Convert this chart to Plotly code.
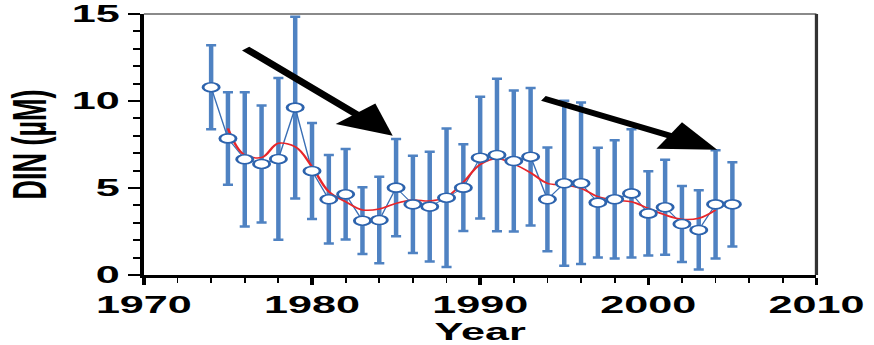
import plotly.graph_objects as go

# ---- data ----
years = list(range(1974, 2006))
din_mean = [10.79, 7.85, 6.65, 6.38, 6.67, 9.62, 5.98, 4.35, 4.64, 3.12,
            3.16, 5.02, 4.06, 3.93, 4.44, 5.02, 6.74, 6.90, 6.55, 6.80,
            4.35, 5.27, 5.27, 4.16, 4.35, 4.69, 3.54, 3.89, 2.93, 2.59,
            4.06, 4.06]
din_sd = [2.42, 2.66, 3.86, 3.36, 4.65, 5.22, 2.76, 2.54, 2.60, 1.92,
          2.49, 2.80, 2.80, 3.16, 3.98, 2.49, 3.50, 4.38, 4.05, 3.95,
          2.98, 4.74, 4.64, 3.16, 3.40, 3.69, 2.42, 2.73, 2.18, 2.28,
          3.11, 2.42]
smooth_years = list(range(1975, 2005))
din_smooth = [8.43, 6.90, 6.75, 7.57, 7.37, 6.22, 4.79, 4.21, 3.74, 3.79,
              4.12, 4.31, 4.25, 4.50, 5.33, 6.35, 6.70, 6.38, 5.88, 5.27,
              5.17, 4.98, 4.50, 4.31, 4.21, 3.83, 3.45, 3.20, 3.26, 3.74]

x_ticks = [1970, 1980, 1990, 2000, 2010]
y_ticks = [0, 5, 10, 15]

# arrows: (tail_x, tail_y, tip_x, tip_y) in data units
arrow_tail_x = [1975.9, 1993.6]
arrow_tail_y = [13.1, 10.2]
arrow_tip_x = [1984.8, 2004.1]
arrow_tip_y = [8.0, 7.2]

# ---- geometry: the reference is a horizontally stretched picture ----
STRETCH = 1.8
W_FULL, H = 874, 345
W = round(W_FULL / STRETCH)

FONT = dict(family="Liberation Sans, Arial, sans-serif", size=24,
            color="black", weight="bold")
YTITLE_FONT = dict(FONT, size=27)

fig = go.Figure()

# error bars with thin connecting line
fig.add_trace(go.Scatter(
    x=years, y=din_mean, mode="lines",
    line=dict(color="#3a6fb5", width=0.8),
    error_y=dict(type="data", array=din_sd, visible=True,
                 color="#4f82c2", thickness=2.5, width=2.8),
    hoverinfo="skip", showlegend=False,
))
# smooth red curve
fig.add_trace(go.Scatter(
    x=smooth_years, y=din_smooth, mode="lines",
    line=dict(color="#e8262a", width=1.5, shape="spline", smoothing=1.0),
    showlegend=False,
))
# open markers
fig.add_trace(go.Scatter(
    x=years, y=din_mean, mode="markers",
    marker=dict(symbol="circle", size=9, color="white",
                line=dict(color="#2d63ad", width=1.6)),
    showlegend=False,
))

for tx, ty, hx, hy in zip(arrow_tail_x, arrow_tail_y, arrow_tip_x, arrow_tip_y):
    fig.add_annotation(
        x=hx, y=hy, ax=tx, ay=ty, xref="x", yref="y", axref="x", ayref="y",
        text="", showarrow=True, arrowhead=2, arrowsize=1.1, arrowwidth=5.5,
        arrowcolor="black", standoff=0,
    )

# frame: grey top and dark right edges
fig.add_shape(type="line", xref="paper", yref="paper", x0=0, x1=1, y0=1, y1=1,
              line=dict(color="#8a8a8a", width=2))
fig.add_shape(type="line", xref="paper", yref="paper", x0=1, x1=1, y0=0, y1=1,
              line=dict(color="#333333", width=1.8))

fig.update_layout(
    width=W, height=H,
    margin=dict(l=80, r=W - 454, t=14, b=70),
    paper_bgcolor="white", plot_bgcolor="white",
    font=FONT,
    xaxis=dict(
        range=[1970, 2010], tickvals=x_ticks, ticktext=[str(v) for v in x_ticks],
        showgrid=False, zeroline=False, showline=True, linecolor="black",
        linewidth=2.6, ticks="outside", ticklen=7, tickwidth=1.5,
        tickcolor="black", tickfont=FONT, ticklabelstandoff=-1,
        minor=dict(dtick=2, tick0=1970, ticks="outside", ticklen=5,
                   tickwidth=1.2, tickcolor="black", showgrid=False),
        title=dict(text="Year", font=FONT, standoff=10),
        automargin=False,
    ),
    yaxis=dict(
        range=[0, 15], tickvals=y_ticks, ticktext=[str(v) for v in y_ticks],
        showgrid=False, zeroline=False, showline=True, linecolor="black",
        linewidth=2.2, ticks="outside", ticklen=6.5, tickwidth=2,
        tickcolor="black", tickfont=FONT,
        minor=dict(dtick=1, tick0=0, ticks="outside", ticklen=4,
                   tickwidth=1.5, tickcolor="black", showgrid=False),
        title=dict(text="DIN (µM)", font=YTITLE_FONT, standoff=6),
        automargin=False,
    ),
)

post = """
document.documentElement.style.margin='0';
document.body.style.margin='0';
document.body.style.overflow='hidden';
var gd = document.getElementById('{plot_id}');
gd.style.transformOrigin = '0 0';
gd.style.transform = 'scaleX(%f)';
""" % (W_FULL / W)

fig.write_html("out.html", post_script=post,
               config={"displayModeBar": False, "responsive": False})
